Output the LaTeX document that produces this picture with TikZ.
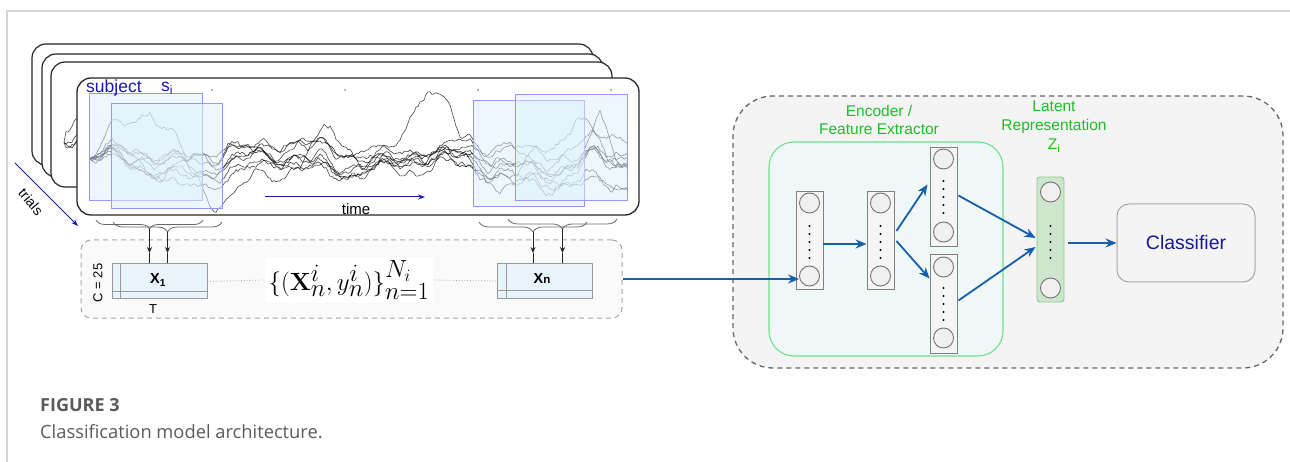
\documentclass[tikz,border=0pt]{standalone}
\usepackage[no-math]{fontspec}
\setmainfont{Liberation Sans}
\newfontfamily\capfont{Open Sans}
\usetikzlibrary{arrows.meta,decorations.pathreplacing,calc}
\definecolor{subjblue}{RGB}{25,25,175}
\definecolor{winfill}{RGB}{222,240,252}
\definecolor{windraw}{RGB}{150,150,250}
\definecolor{arrblue}{RGB}{22,95,170}
\definecolor{lgreen}{RGB}{30,190,40}
\definecolor{encdraw}{RGB}{110,225,140}
\definecolor{encfill}{RGB}{239,247,247}
\definecolor{bigfill}{RGB}{244,244,244}
\definecolor{latfill}{RGB}{205,230,205}
\definecolor{latdraw}{RGB}{140,200,140}
\definecolor{clsblue}{RGB}{25,25,150}
\definecolor{capgray}{RGB}{90,90,90}
\definecolor{framec}{RGB}{212,212,212}
\definecolor{xfill}{RGB}{232,244,250}
\newcommand\mytrace[3]{%
  \pgfmathsetseed{#1}\gdef\dev{0}%
  \draw[trc] (90,{mm(90)}) foreach \xx in {92,94,...,628}{%
    \pgfextra{\pgfmathsetmacro\tmp{\dev*0.985+#2*rand}\global\let\dev\tmp}%
    -- (\xx,{mm(\xx)+\dev+(#3)}) };%
}
\begin{document}
\begin{tikzpicture}[x=1pt,y=-1pt,
  declare function={mm(\t)=161+7*sin(2.2*\t+20)+5*sin(5.3*\t+40)+3*sin(12*\t);},
  trc/.style={line width=0.6pt, draw=black, draw opacity=0.72, line join=round},
  card/.style={draw=black!85, line width=1.2pt, fill=white, rounded corners=14pt},
  win/.style={draw=windraw, line width=0.7pt, fill=winfill, fill opacity=0.5},
  brc/.style={draw=black!60, line width=0.8pt, decorate},
  sarrow/.style={draw=black!85, line width=0.8pt, -{Stealth[length=6pt,width=5pt]}},
  sline/.style={draw=black!85, line width=0.8pt},
  xbox/.style={draw=black!40, line width=1pt, fill=xfill, minimum width=95pt, minimum height=35pt, inner sep=0pt},
  dset/.style={draw=black!35, dash pattern=on 5pt off 4pt, line width=1pt, fill=black!2, rounded corners=10pt, minimum width=541pt, minimum height=78pt},
  bigbox/.style={draw=black!60, dash pattern=on 5pt off 4pt, line width=1.3pt, fill=bigfill, rounded corners=40pt, minimum width=550pt, minimum height=272pt},
  encbox/.style={draw=encdraw, line width=1.1pt, fill=encfill, rounded corners=25pt, minimum width=234pt, minimum height=214pt},
  layer/.style={draw=black!50, line width=0.9pt, fill=black!4, minimum width=27pt, inner sep=0pt},
  latl/.style={draw=latdraw, line width=0.9pt, fill=latfill, minimum width=27pt, rounded corners=3pt, inner sep=0pt},
  neuron/.style={circle, draw=black!55, line width=0.9pt, fill=black!6, minimum size=20pt, inner sep=0pt},
  barrow/.style={draw=arrblue, line width=1.8pt, -{Stealth[length=11pt,width=9pt]}},
  glab/.style={text=lgreen, font=\fontsize{15.5}{18.5}\selectfont, align=center, inner sep=0pt},
  lab/.style={inner sep=0pt}
]
\useasboundingbox (0,0) rectangle (1290,462);
% frame
\draw[framec, line width=1.2pt] (7,462) -- (7,11) -- (1290,11);

% back cards with traces
\draw[card] (32,44) rectangle (593,165);
\begin{scope}
  \clip[rounded corners=14pt] (32,44) rectangle (593,165);
  \begin{scope}[shift={(-45,-34)}]
    \mytrace{31}{2.6}{-40*max(0,1-abs(\xx-140)/30)}
    \mytrace{32}{2.8}{-10*max(0,1-abs(\xx-100)/30)}
    \mytrace{33}{2.6}{12*max(0,1-abs(\xx-110)/30)}
    \mytrace{34}{2.8}{0}
  \end{scope}
\end{scope}
\draw[card] (42,54) rectangle (603,177);
\begin{scope}
  \clip[rounded corners=14pt] (42,54) rectangle (603,177);
  \begin{scope}[shift={(-35,-24)}]
    \mytrace{41}{2.6}{-45*max(0,1-abs(\xx-140)/30)}
    \mytrace{42}{2.8}{-12*max(0,1-abs(\xx-100)/30)}
    \mytrace{43}{2.6}{15*max(0,1-abs(\xx-120)/35)}
    \mytrace{44}{2.8}{0}
  \end{scope}
\end{scope}
\draw[card] (51,62) rectangle (612,187);
\begin{scope}
  \clip[rounded corners=14pt] (51,62) rectangle (612,187);
  \begin{scope}[shift={(-26,-16)}]
    \mytrace{51}{2.6}{-50*max(0,1-abs(\xx-135)/30)}
    \mytrace{52}{2.8}{-12*max(0,1-abs(\xx-100)/30)}
    \mytrace{53}{2.6}{15*max(0,1-abs(\xx-115)/35)}
    \mytrace{54}{2.8}{0}
  \end{scope}
\end{scope}

% main card
\draw[card, line width=1.3pt] (77,78) rectangle (639,215);
\foreach \dx in {212,345,478,611} \fill[black!45] (\dx,90) circle (1pt);
\mytrace{11}{2.6}{-62*max(0,1-abs(\xx-150)/60)+20*max(0,1-abs(\xx-215)/40)}
\mytrace{12}{2.8}{-48*max(0,1-abs(\xx-578)/38)-30*max(0,1-abs(\xx-540)/30)}
\mytrace{13}{2.6}{-52*max(0,1-abs(\xx-428)/32)}
\mytrace{14}{2.7}{-38*max(0,1-abs(\xx-330)/30)}
\mytrace{15}{2.8}{25*max(0,1-abs(\xx-268)/35)+25*max(0,1-abs(\xx-500)/25)}
\mytrace{16}{2.6}{-55*max(0,1-abs(\xx-600)/22)}
\mytrace{17}{2.9}{22*max(0,1-abs(\xx-165)/30)}
\mytrace{18}{2.7}{0}
\mytrace{19}{2.7}{18*max(0,1-abs(\xx-560)/30)}

% windows
\draw[win] (89,93) rectangle (202,200);
\draw[win] (111,103) rectangle (222,208);
\draw[win] (473,100) rectangle (584,206);
\draw[win] (515,94) rectangle (627,200);

\node[lab, anchor=west, text=subjblue, font=\fontsize{17.5}{20}\selectfont] (subj) at (86,88) {subject};
\node[lab, anchor=west, text=subjblue, font=\fontsize{17.5}{20}\selectfont] (si) at (161,88) {s\textsubscript{i}};

% time
\coordinate (t0) at (265,197);
\coordinate (t1) at (425,197);
\draw[draw=subjblue, line width=1pt, -{Stealth[length=7pt,width=5pt]}] (t0) -- (t1);
\node[lab, font=\fontsize{15}{18}\selectfont] (time) at (356,209) {time};

% trials
\coordinate (tr0) at (15,163);
\coordinate (tr1) at (78,226);
\draw[draw=subjblue, line width=0.8pt, -{Stealth[length=7pt,width=5pt]}] (tr0) -- (tr1);
\node[lab, rotate=-50, font=\fontsize{14}{16}\selectfont] (trials) at (31,202) {trials};

% dataset box
\node[dset] (dset) at (351.5,279) {};
\node[xbox] (X1) at (159.5,281.5) {};
\draw[draw=black!40, line width=0.8pt] ([xshift=9pt]X1.north west) -- ([xshift=9pt]X1.south west);
\draw[draw=black!40, line width=0.8pt] ([yshift=8pt]X1.south west) -- ([yshift=8pt]X1.south east);
\node[lab, font=\fontsize{14.5}{16}\selectfont\bfseries] (x1lab) at (158,280) {X\textsubscript{1}};
\node[lab, rotate=90, font=\fontsize{13}{15}\selectfont] (clab) at (98,283) {C = 25};
\node[lab, font=\fontsize{13}{15}\selectfont] (tlab) at (153,309) {T};

\node[xbox] (Xn) at (544.5,281) {};
\draw[draw=black!40, line width=0.8pt] ([xshift=10pt]Xn.north west) -- ([xshift=10pt]Xn.south west);
\draw[draw=black!40, line width=0.8pt] ([yshift=9pt]Xn.south west) -- ([yshift=9pt]Xn.south east);
\node[lab, font=\fontsize{14.5}{16}\selectfont\bfseries] (xnlab) at (542,279) {X{\fontsize{11.5}{12}\selectfont n}};

\node[fill=white, inner sep=4pt] (form) at (349,280) {\fontsize{34}{37}\selectfont $\{(\mathbf{X}_n^i, y_n^i)\}_{n=1}^{N_i}$};
\draw[draw=black!35, dotted, line width=0.8pt] (X1.east) -- (form.west);
\draw[draw=black!35, dotted, line width=0.8pt] (form.east) -- (Xn.west);

% braces
\draw[brc, decoration={brace,amplitude=9pt}] (203,220) -- (96,220);
\draw[brc, decoration={brace,amplitude=10pt}] (222,222) -- (113,222);
\draw[brc, decoration={brace,amplitude=10pt}] (587,222) -- (479,222);
\draw[brc, decoration={brace,amplitude=10pt}] (617,219) -- (508,219);
\coordinate (b1) at (149.5,229);
\coordinate (b2) at (167.5,232);
\coordinate (b3) at (533,232);
\coordinate (b4) at (562.5,229);
\coordinate (a1) at (149.5,253);
\coordinate (a2) at (167.5,253);
\coordinate (a3) at (533,253);
\coordinate (a4) at (562.5,253);
\draw[sarrow] (b1) -- (a1); \draw[sline] (a1) -- (a1 |- X1.north);
\draw[sarrow] (b2) -- (a2); \draw[sline] (a2) -- (a2 |- X1.north);
\draw[sarrow] (b3) -- (a3); \draw[sline] (a3) -- (a3 |- Xn.north);
\draw[sarrow] (b4) -- (a4); \draw[sline] (a4) -- (a4 |- Xn.north);

% model
\node[bigbox] (model) at (1008,232) {};
\node[encbox] (enc) at (886,249) {};
\node[glab] (enclab) at (879,120) {Encoder /\\Feature Extractor};
\node[glab, font=\fontsize{15.5}{19}\selectfont] (latlab) at (1054,127) {Latent\\Representation\\Z\textsubscript{i}};

\node[layer, minimum height=98pt] (L1) at (809.5,240) {};
\node[layer, minimum height=98pt] (L2) at (880.5,240) {};
\node[layer, minimum height=99pt] (L3a) at (943.5,196.5) {};
\node[layer, minimum height=99pt] (L3b) at (943.5,303.5) {};
\node[latl, minimum height=125pt] (Lat) at (1050.5,239.5) {};

\node[neuron] (L1t) at (809.5,203) {};
\node[neuron] (L1b) at (809.5,276) {};
\node[neuron] (L2t) at (880.5,203) {};
\node[neuron] (L2b) at (880.5,276) {};
\node[neuron] (L3at) at (943.5,159) {};
\node[neuron] (L3ab) at (943.5,232) {};
\node[neuron] (L3bt) at (943.5,267) {};
\node[neuron] (L3bb) at (943.5,338) {};
\node[neuron] (Latt) at (1050.5,192) {};
\node[neuron] (Latb) at (1050.5,288) {};

\foreach \yy in {226,234,242,250,258} {
  \fill (809.5,\yy) circle (1.2pt);
  \fill (880.5,\yy) circle (1.2pt);
  \fill (1050.5,\yy) circle (1.2pt);
}
\foreach \yy in {181,189,197,205,213} \fill (943.5,\yy) circle (1.2pt);
\foreach \yy in {288,296,304,312,320} \fill (943.5,\yy) circle (1.2pt);

\node[draw=black!35, line width=1pt, fill=bigfill, rounded corners=12pt, minimum width=138pt, minimum height=78pt, text=clsblue, font=\fontsize{19.5}{22}\selectfont] (cls) at (1186,243) {Classifier};

\draw[barrow] (dset.east) -- (dset.east -| L1b.west);
\draw[barrow] ($(L1.east)+(0,4)$) -- ($(L2.west)+(0,4)$);
\draw[barrow] ($(L2.east)+(2,-9)$) -- ($(L3a.west)+(-2,-12)$);
\draw[barrow] ($(L2.east)+(2,1)$) -- ($(L3b.west)+(0,-25)$);
\draw[barrow] ($(L3a.east)+(1,-1)$) -- ($(Lat.west)+(-1,-1.5)$);
\draw[barrow] ($(L3b.east)+(1,-3)$) -- ($(Lat.west)+(-1,7.5)$);
\draw[barrow] ($(Lat.east)+(4,3.5)$) -- (cls.west);

% caption
\node[lab, anchor=west, text=capgray, font=\capfont\bfseries\fontsize{18}{21}\selectfont] (fig) at (40,405) {FIGURE 3};
\node[lab, anchor=west, text=capgray, font=\capfont\fontsize{18.3}{21}\selectfont] (capt) at (40,432) {Classification model architecture.};
\end{tikzpicture}
\end{document}
